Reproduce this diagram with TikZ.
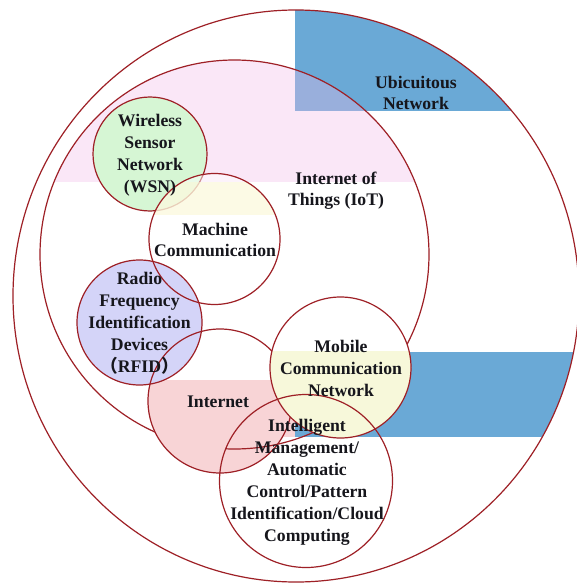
\documentclass[tikz,border=0pt]{standalone}
\usepackage{fontspec}
\setmainfont{Liberation Serif}
\newfontfamily\cjk{Noto Sans CJK SC}
\definecolor{ringc}{RGB}{158,32,38}
\definecolor{ubblue}{RGB}{106,169,214}
\definecolor{iotpink}{RGB}{243,189,234}
\definecolor{wsngreen}{RGB}{214,246,212}
\definecolor{mcyellow}{RGB}{250,248,212}
\definecolor{rfidblue}{RGB}{212,212,248}
\definecolor{inetpink}{RGB}{248,212,214}
\definecolor{mobyellow}{RGB}{247,248,218}
\definecolor{txtc}{RGB}{22,22,28}
\begin{document}
\begin{tikzpicture}[x=1pt,y=-1pt,
  ring/.style={draw=ringc, line width=1.2pt},
  lbl/.style={font=\bfseries\fontsize{17.7}{22}\selectfont, align=center, text=txtc, inner sep=0pt},
  lbltwo/.style={font=\bfseries\fontsize{17.7}{21}\selectfont, align=center, text=txtc, inner sep=0pt}]
\path[use as bounding box] (0,0) rectangle (576,583);
\fill[white] (0,0) rectangle (576,583);
% ubiquitous network blocks
\begin{scope}
  \clip (296,296) ellipse [x radius=283pt, y radius=286pt];
  \fill[ubblue] (295,0) rectangle (600,111);
  \fill[ubblue] (295,352) rectangle (600,437);
\end{scope}
% IoT pink top
\begin{scope}
  \clip (234.5,254.5) circle [radius=194.5pt];
  \fill[iotpink, opacity=0.35] (0,0) rectangle (576,182);
\end{scope}
\draw[ring] (296,296) ellipse [x radius=283pt, y radius=286pt];
\draw[ring] (234.5,254.5) circle [radius=194.5pt];
% WSN
\fill[wsngreen] (150,154) circle [radius=57pt];
\draw[ring] (150,154) circle [radius=57pt];
% Machine communication (semi transparent)
\fill[white, opacity=0.5] (214.5,239) circle [radius=65.5pt];
\begin{scope}
  \clip (214.5,239) circle [radius=65.5pt];
  \fill[mcyellow, opacity=0.6] (0,182) rectangle (576,215);
\end{scope}
% Internet
\fill[white] (220,401) circle [radius=72pt];
\begin{scope}
  \clip (220,401) circle [radius=72pt];
  \fill[inetpink] (0,380) rectangle (576,583);
\end{scope}
% RFID
\fill[rfidblue] (139.5,322.5) circle [radius=62.5pt];
\draw[ring] (214.5,239) circle [radius=65.5pt];
\draw[ring] (139.5,322.5) circle [radius=62.5pt];
% Intelligent management
\fill[white] (306,481) circle [radius=86.5pt];
\begin{scope}
  \clip (306,481) circle [radius=86.5pt];
  \fill[inetpink] (140,380) rectangle (295,437);
  \fill[ubblue] (295,352) rectangle (600,437);
  \begin{scope}
    \clip (220,401) circle [radius=72pt];
    \fill[inetpink] (0,380) rectangle (576,583);
  \end{scope}
  \draw[ring] (234.5,254.5) circle [radius=194.5pt];
\end{scope}
\draw[ring] (220,401) circle [radius=72pt];
% Mobile communication network
\fill[white] (340.5,367.5) circle [radius=70.5pt];
\begin{scope}
  \clip (340.5,367.5) circle [radius=70.5pt];
  \fill[mobyellow] (0,351) rectangle (576,583);
\end{scope}
\draw[ring] (340.5,367.5) circle [radius=70.5pt];
\draw[ring] (306,481) circle [radius=86.5pt];
% labels
\node[lbltwo] (ubi) at (416,93) {Ubicuitous\\Network};
\node[lbltwo] (iot) at (336,191) {Internet of\\Things (IoT)};
\node[lbl] (wsn) at (150,155) {Wireless\\Sensor\\Network\\(WSN)};
\node[lbltwo] (mc) at (215,240) {Machine\\Communication};
\node[lbl] (rfid) at (139.5,323) {Radio\\Frequency\\Identification\\Devices\\{\cjk （}RFID{\cjk ）}};
\node[lbl] (inet) at (218,402) {Internet};
\node[lbl] (mob) at (341,368) {Mobile\\Communication\\Network};
\node[lbl] (intel) at (307,482) {Intelligent\\Management/\\Automatic\\Control/Pattern\\Identification/Cloud\\Computing};
\end{tikzpicture}
\end{document}
